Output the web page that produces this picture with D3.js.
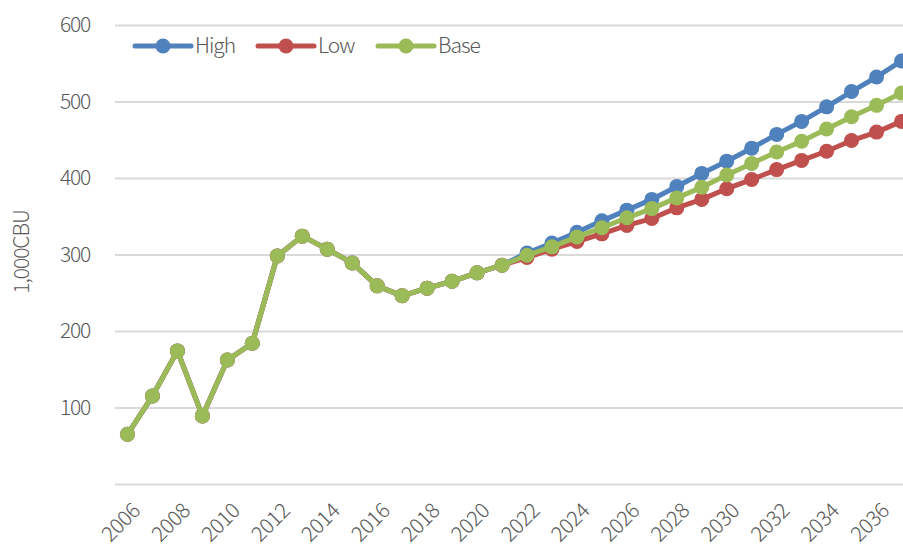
<!DOCTYPE html>
<html>
<head>
<meta charset="utf-8">
<script src="https://cdn.jsdelivr.net/npm/d3@7"></script>
<style>
  html, body { margin: 0; padding: 0; background: #fff; }
  svg { display: block; }
  text { font-family: "Noto Sans CJK JP", "Noto Sans", sans-serif; font-weight: 300; fill: #595959; }
</style>
</head>
<body>
<svg id="chart" width="903" height="548"></svg>
<script>
// Years on the category axis
const years = d3.range(2006, 2038);

// Actual values shared by all scenarios (2006–2021)
const history = [65, 115, 174, 89, 162, 184, 298, 324, 307, 289, 259, 246, 256, 265, 276, 286];

// Scenario projections (2022–2037)
const highValues = [302, 315, 329, 344, 358, 372, 389, 406, 422, 439, 457, 474, 493, 513, 532, 553];
const lowValues  = [296, 307, 317, 327, 338, 347, 361, 372, 386, 398, 411, 423, 435, 449, 460, 474];
const baseValues = [299, 310, 323, 335, 348, 360, 374, 388, 404, 419, 434, 448, 464, 480, 495, 511];

const yTicks = [0, 100, 200, 300, 400, 500, 600];
const xTickYears = d3.range(2006, 2038, 2);
const yTitle = "1,000CBU";

const series = [
  { name: "High", color: "#4F81BD", values: history.concat(highValues) },
  { name: "Low",  color: "#C0504D", values: history.concat(lowValues) },
  { name: "Base", color: "#9BBB59", values: history.concat(baseValues) }
];

const svg = d3.select("#chart");
const plotLeft = 115, plotRight = 914, plotTop = 25, plotBottom = 484;

const x = d3.scaleBand().domain(years).range([plotLeft, plotRight]);
const cx = yr => x(yr) + x.bandwidth() / 2;
const y = d3.scaleLinear().domain([0, 600]).range([plotBottom, plotTop]);

// Horizontal gridlines and value labels
const yAxis = d3.axisLeft(y)
  .tickValues(yTicks)
  .tickSize(-(plotRight - plotLeft))
  .tickPadding(25)
  .tickFormat(d => d === 0 ? "" : d);

const gy = svg.append("g").attr("transform", `translate(${plotLeft},0)`).call(yAxis);
gy.select(".domain").remove();
gy.selectAll(".tick line").attr("stroke", "#d9d9d9").attr("stroke-width", 2);
gy.selectAll(".tick text")
  .style("font-size", "21px")
  .style("letter-spacing", "-1.2px")
  .attr("fill", "#595959");

// Year labels, every other year, slanted
const xAxis = d3.axisBottom(x)
  .tickValues(xTickYears)
  .tickSize(0)
  .tickPadding(0);
const gx = svg.append("g").attr("transform", `translate(0,${plotBottom})`).call(xAxis);
gx.select(".domain").remove();
gx.selectAll(".tick text")
  .attr("text-anchor", "end")
  .attr("transform", "translate(14,28) rotate(-45)")
  .attr("dy", "0")
  .attr("y", 0)
  .style("font-size", "21px")
  .style("letter-spacing", "-0.3px")
  .attr("fill", "#595959");

// Axis title
svg.append("text")
  .attr("transform", "translate(29,252) rotate(-90)")
  .attr("text-anchor", "middle")
  .style("font-size", "21px")
  .style("letter-spacing", "-1px")
  .text(yTitle);

// Lines and markers
const line = d3.line()
  .x((d, i) => cx(years[i]))
  .y(d => y(d));

series.forEach(s => {
  const g = svg.append("g");
  g.append("path")
    .datum(s.values)
    .attr("fill", "none")
    .attr("stroke", s.color)
    .attr("stroke-width", 5)
    .attr("stroke-linejoin", "round")
    .attr("d", line);
  g.selectAll("circle")
    .data(s.values)
    .join("circle")
    .attr("cx", (d, i) => cx(years[i]))
    .attr("cy", d => y(d))
    .attr("r", 7.5)
    .attr("fill", s.color);
});

// Legend
const legendItems = [
  { name: "High", color: "#4F81BD", x0: 135 },
  { name: "Low",  color: "#C0504D", x0: 258 },
  { name: "Base", color: "#9BBB59", x0: 378 }
];
const ly = 46;
legendItems.forEach(it => {
  const g = svg.append("g");
  g.append("line")
    .attr("x1", it.x0).attr("x2", it.x0 + 56)
    .attr("y1", ly).attr("y2", ly)
    .attr("stroke", it.color).attr("stroke-width", 5).attr("stroke-linecap", "round");
  g.append("circle").attr("cx", it.x0 + 28).attr("cy", ly).attr("r", 7.5).attr("fill", it.color);
  g.append("text")
    .attr("x", it.x0 + 60).attr("y", ly)
    .attr("dy", "0.35em")
    .style("font-size", "21px")
    .style("letter-spacing", "-1px")
    .text(it.name);
});
</script>
</body>
</html>
